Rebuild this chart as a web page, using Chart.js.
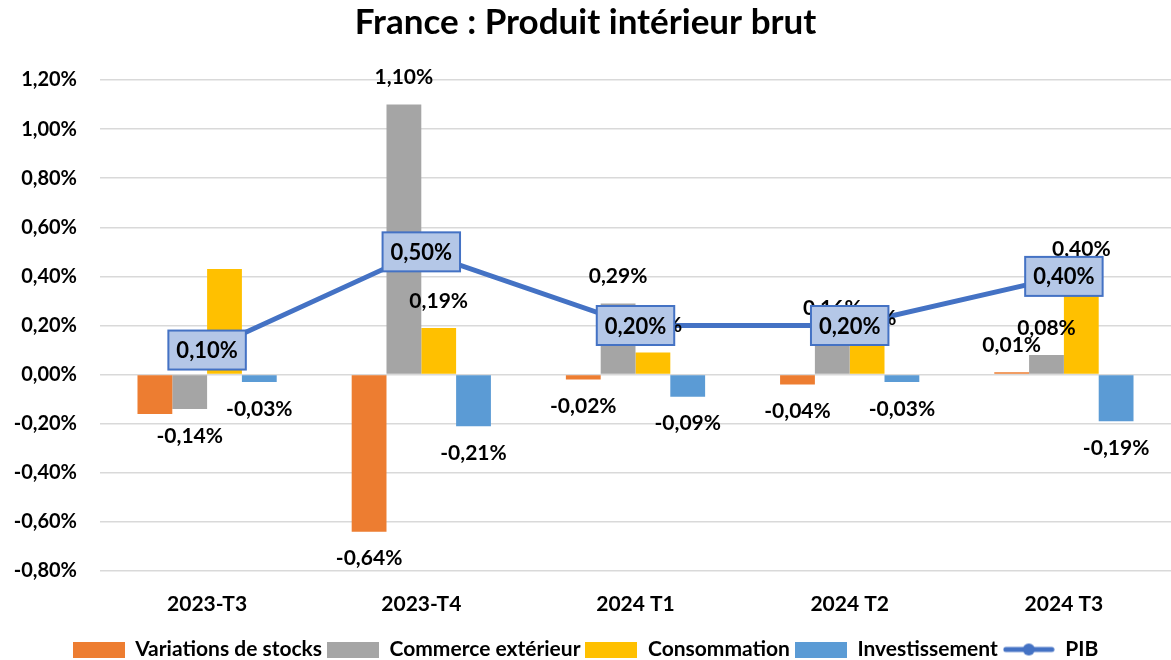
<!DOCTYPE html>
<html>
<head>
<meta charset="utf-8">
<script src="https://cdn.jsdelivr.net/npm/chart.js@4.4.1/dist/chart.umd.min.js"></script>
<style>
  html, body { margin: 0; padding: 0; background: #fff; overflow: hidden; }
  #wrap { width: 1171px; height: 660px; }
</style>
</head>
<body>
<div id="wrap"><canvas id="pibChart"></canvas></div>
<script>
// values (%)
const categories = ['2023-T3', '2023-T4', '2024 T1', '2024 T2', '2024 T3'];
const stocks = [-0.16, -0.64, -0.02, -0.04, 0.01];
const commerce = [-0.14, 1.10, 0.29, 0.16, 0.08];
const consommation = [0.43, 0.19, 0.09, 0.12, 0.40];
const investissement = [-0.03, -0.21, -0.09, -0.03, -0.19];
const pib = [0.10, 0.50, 0.20, 0.20, 0.40];

// which bar labels are shown in the original
const stocksShown = [false, true, true, true, true];
const commerceShown = [true, true, true, true, true];
const consommationShown = [false, true, true, true, true];
const investissementShown = [true, true, true, true, true];

const fontName = 'Lato, "Open Sans", sans-serif';

const fmt = (v) => v.toFixed(2).replace('.', ',') + '%';

const barSeries = [
    { label: 'Variations de stocks', data: stocks, shown: stocksShown, color: '#ED7D31' },
    { label: 'Commerce extérieur', data: commerce, shown: commerceShown, color: '#A5A5A5' },
    { label: 'Consommation', data: consommation, shown: consommationShown, color: '#FFC000' },
    { label: 'Investissement', data: investissement, shown: investissementShown, color: '#5B9BD5' }
];

// legend icons drawn on small canvases
makeBoxIcon = (color) => {
    const c = document.createElement('canvas');
    c.width = 52; c.height = 16;
    const g = c.getContext('2d');
    g.fillStyle = color;
    g.fillRect(0, 0, 52, 16);
    return c;
}

makeLineIcon = (color) => {
    const c = document.createElement('canvas');
    c.width = 52; c.height = 16;
    const g = c.getContext('2d');
    g.strokeStyle = color;
    g.lineWidth = 5;
    g.lineCap = 'round';
    g.beginPath();
    g.moveTo(3, 8); g.lineTo(49, 8);
    g.stroke();
    g.fillStyle = color;
    g.beginPath();
    g.arc(26, 8, 6, 0, Math.PI * 2);
    g.fill();
    return c;
}

const valueLabels = {
    id: 'valueLabels',
    afterInit(chart) {
        // pull the legend a bit lower, closer to the bottom edge
        const lg = chart.legend;
        const origFit = lg.fit;
        lg.fit = function () { origFit.call(this); this.height -= 10; };
    },
    afterDatasetsDraw(chart) {
        const ctx = chart.ctx;
        ctx.save();
        ctx.textAlign = 'center';
        ctx.textBaseline = 'middle';
        ctx.fillStyle = '#000';
        ctx.font = 'bold 21px ' + fontName;
        barSeries.forEach((s, di) => {
            chart.getDatasetMeta(di).data.forEach((bar, i) => {
                if (!s.shown[i]) return;
                const v = s.data[i];
                const y = v >= 0 ? bar.y - 27 : bar.y + 27;
                ctx.fillText(fmt(v), bar.x, y);
            });
        });

        // PIB boxes on top of everything
        ctx.font = 'bold 22px ' + fontName;
        chart.getDatasetMeta(4).data.forEach((pt, i) => {
            const txt = fmt(pib[i]);
            const w = ctx.measureText(txt).width + 16;
            const h = 39;
            ctx.fillStyle = '#B4C7E7';
            ctx.fillRect(pt.x - w / 2, pt.y - h / 2, w, h);
            ctx.strokeStyle = '#4472C4';
            ctx.lineWidth = 2;
            ctx.strokeRect(pt.x - w / 2, pt.y - h / 2, w, h);
            ctx.fillStyle = '#000';
            ctx.fillText(txt, pt.x, pt.y + 1);
        });
        ctx.restore();
    }
};

const datasets = barSeries.map(s => ({
    type: 'bar',
    label: s.label,
    data: s.data,
    backgroundColor: s.color,
    borderWidth: 0,
    categoryPercentage: 0.65,
    barPercentage: 1,
    order: 1
}));

datasets.push({
    type: 'line',
    label: 'PIB',
    data: pib,
    borderColor: '#4472C4',
    backgroundColor: '#4472C4',
    borderWidth: 5,
    pointRadius: 0,
    tension: 0,
    order: 0
});

new Chart(document.getElementById('pibChart'), {
    type: 'bar',
    data: { labels: categories, datasets: datasets },
    plugins: [valueLabels],
    options: {
        responsive: true,
        maintainAspectRatio: false,
        animation: false,
        layout: { padding: { left: 0, right: 0, top: 0, bottom: 0 } },
        plugins: {
            tooltip: { enabled: false },
            title: {
                display: true,
                text: 'France : Produit intérieur brut',
                color: '#000',
                font: { family: fontName, size: 35, weight: 'bold' },
                padding: { top: 2, bottom: 36 }
            },
            legend: {
                position: 'bottom',
                labels: {
                    color: '#000',
                    font: { family: fontName, size: 21, weight: 'bold' },
                    usePointStyle: true,
                    pointStyleWidth: 52,
                    boxHeight: 16,
                    padding: 5,
                    generateLabels: (chart) => chart.data.datasets.map((ds, i) => ({
                        text: ds.label,
                        datasetIndex: i,
                        hidden: false,
                        fontColor: '#000',
                        lineWidth: 0,
                        pointStyle: ds.type === 'line' ? makeLineIcon('#4472C4') : makeBoxIcon(ds.backgroundColor)
                    }))
                }
            }
        },
        scales: {
            x: {
                grid: { display: false, drawTicks: false },
                border: { display: false },
                ticks: {
                    color: '#000',
                    padding: 21,
                    font: { family: fontName, size: 21, weight: 'bold' }
                },
                afterFit: (scale) => { scale.height = 63; }
            },
            y: {
                min: -0.8,
                max: 1.2,
                grid: { color: '#D9D9D9', lineWidth: 1.5, drawTicks: false },
                border: { display: false },
                ticks: {
                    stepSize: 0.2,
                    color: '#000',
                    padding: 23,
                    font: { family: fontName, size: 20, weight: 'bold' },
                    callback: (v) => fmt(v)
                },
                afterFit: (scale) => { scale.width = 100; }
            }
        }
    }
});
</script>
</body>
</html>
